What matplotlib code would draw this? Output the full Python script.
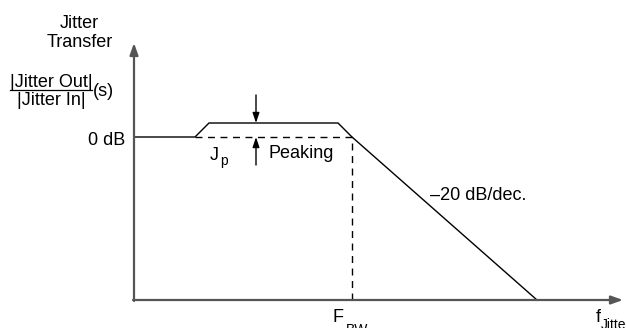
import matplotlib
matplotlib.use("Agg")
import matplotlib.pyplot as plt

# schematic jitter transfer curve (units: px right / up from the axis origin)
response_x = [0, 61, 75, 204, 218, 403]
response_y = [163, 163, 177, 177, 163, 0]
zero_db = 163
peak_db = 177
f_bw = 218
x_tip = 489
y_tip = 257

plt.rcParams['font.family'] = ['Liberation Sans', 'DejaVu Sans']

fig = plt.figure(figsize=(6.26, 3.28), dpi=100)
ax = fig.add_axes([0, 0, 1, 1])
ax.set_xlim(-134, 492)
ax.set_ylim(-28, 300)
ax.axis('off')

axis_col = '#555555'
fs = 13
sub = 10

# axes with arrow heads
arr = dict(arrowstyle='-|>,head_length=0.7,head_width=0.25', color=axis_col,
           lw=1.6, shrinkA=0, shrinkB=0)
ax.annotate('', xy=(0, y_tip), xytext=(0, -1), arrowprops=arr)
ax.annotate('', xy=(x_tip, 0), xytext=(-1, 0), arrowprops=arr)

# response curve
ax.plot(response_x, response_y, color='black', lw=1.0, solid_joinstyle='miter')

# dashed reference lines
ax.plot([response_x[1], f_bw], [zero_db, zero_db], color='black', lw=1.0,
        dashes=(5, 4))
ax.plot([f_bw, f_bw], [0, zero_db], color='black', lw=1.0, dashes=(5, 4))

# peaking arrows
small = dict(arrowstyle='-|>,head_length=0.6,head_width=0.2', color='black',
             lw=1.0, shrinkA=0, shrinkB=0)
ax.annotate('', xy=(122, peak_db), xytext=(122, 205), arrowprops=small)
ax.annotate('', xy=(122, zero_db), xytext=(122, 135), arrowprops=small)

# labels
ax.text(-9, 155, '0 dB', ha='right', va='baseline', fontsize=fs)
ax.text(76, 140, 'J', ha='left', va='baseline', fontsize=fs)
ax.text(86, 135, 'p', ha='left', va='baseline', fontsize=sub)
ax.text(134, 142, 'Peaking', ha='left', va='baseline', fontsize=fs)
ax.text(296, 100, '\u201320 dB/dec.', ha='left', va='baseline', fontsize=fs)
ax.text(199, -22, 'F', ha='left', va='baseline', fontsize=fs)
ax.text(212, -34, 'BW', ha='left', va='baseline', fontsize=sub)
ax.text(462, -22, 'f', ha='left', va='baseline', fontsize=fs)
ax.text(467, -29, 'Jitter', ha='left', va='baseline', fontsize=sub)

ax.text(-55, 272, 'Jitter', ha='center', va='baseline', fontsize=fs)
ax.text(-54, 253, 'Transfer', ha='center', va='baseline', fontsize=fs)

# |Jitter Out| / |Jitter In| (s)
ax.text(-83, 213, '|Jitter Out|', ha='center', va='baseline', fontsize=fs)
ax.plot([-124, -42], [210, 210], color='black', lw=0.9)
ax.text(-83, 195, '|Jitter In|', ha='center', va='baseline', fontsize=fs)
ax.text(-41, 208, '(s)', ha='left', va='center', fontsize=fs)

fig.savefig('out.png', dpi=100)
